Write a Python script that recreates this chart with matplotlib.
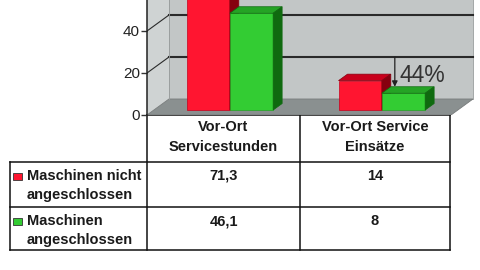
import matplotlib.pyplot as plt
from matplotlib.patches import Polygon, Rectangle

plt.rcParams['font.family'] = ['Liberation Sans', 'DejaVu Sans']

# data
categories = ['Vor-Ort\nServicestunden', 'Vor-Ort Service\nEinsätze']
series_names = ['Maschinen nicht\nangeschlossen', 'Maschinen\nangeschlossen']
not_connected = [71.3, 14]
connected = [46.1, 8]
value_labels = [['71,3', '14'], ['46,1', '8']]
y_ticks = [0, 20, 40]
reduction_label = '44%'

# colours: front, top, side
red = ['#ff1530', '#c8001c', '#86000f']
green = ['#33cc33', '#25a325', '#0f6a0f']
series_colors = [red, green]
series_values = [not_connected, connected]

W, H = 480, 270
fig = plt.figure(figsize=(4.8, 2.7), dpi=100)

# ---- table (pixel coords) ----
tab = fig.add_axes([0, 0, 1, 1])
tab.set_xlim(0, W)
tab.set_ylim(H, 0)
tab.axis('off')

col_edges = [10, 147, 300, 450]
row_edges = [115, 162, 207, 250]
lc, lw = '#111111', 1.1
tab.plot([col_edges[1], col_edges[3]], [row_edges[0]] * 2, color=lc, lw=lw)
for y in row_edges[1:]:
    tab.plot([col_edges[0], col_edges[3]], [y, y], color=lc, lw=lw)
tab.plot([col_edges[0]] * 2, [row_edges[1], row_edges[3]], color=lc, lw=lw)
for x in col_edges[1:]:
    tab.plot([x, x], [row_edges[0], row_edges[3]], color=lc, lw=lw)

fs = 10.5
for j, cat in enumerate(categories):
    cx = (col_edges[j + 1] + col_edges[j + 2]) / 2
    for k, line in enumerate(cat.split('\n')):
        tab.text(cx, 127 + 20 * k, line, ha='center', va='center',
                 fontsize=fs, fontweight='bold', color='#1a1a1a')

for i, name in enumerate(series_names):
    y0 = row_edges[i + 1] + 14
    tab.add_patch(Rectangle((13, y0 - 3.5), 9, 7, facecolor=series_colors[i][0],
                            edgecolor='#333333', lw=0.6))
    for k, line in enumerate(name.split('\n')):
        tab.text(27, y0 + 19 * k, line, ha='left', va='center',
                 fontsize=fs, fontweight='bold', color='#1a1a1a')
    for j in range(len(categories)):
        cx = (col_edges[j + 1] + col_edges[j + 2]) / 2
        tab.text(cx, y0, value_labels[i][j], ha='center', va='center',
                 fontsize=fs, fontweight='bold', color='#1a1a1a')

# ---- 3D-looking bar chart ----
ax_left, ax_base = 147, 115
px_cat, px_unit = 152, 2.1
ax = fig.add_axes([ax_left / W, (H - ax_base) / H, 1 - ax_left / W, ax_base / H])
ax.patch.set_alpha(0)
x_lo = -0.5
ax.set_xlim(x_lo, x_lo + (W - ax_left) / px_cat)
top = ax_base / px_unit
ax.set_ylim(0, top)

DX, DY = 22 / px_cat, 16 / px_unit   # full depth of floor
x_hi = 1.5
wall_side, wall_back, floor_c = '#cfd3d3', '#c2c6c6', '#8a9090'

ax.add_patch(Polygon([(x_lo, 0), (x_lo + DX, DY), (x_lo + DX, top + 5), (x_lo, top + 5)],
                     closed=True, facecolor=wall_side, edgecolor='none', zorder=1))
ax.add_patch(Polygon([(x_lo + DX, DY), (x_hi + DX, DY), (x_hi + DX, top + 5), (x_lo + DX, top + 5)],
                     closed=True, facecolor=wall_back, edgecolor='#9a9e9e', lw=0.6, zorder=1))
ax.add_patch(Polygon([(x_lo, 0), (x_hi, 0), (x_hi + DX, DY), (x_lo + DX, DY)],
                     closed=True, facecolor=floor_c, edgecolor='#777b7b', lw=0.6, zorder=2))
for t in y_ticks[1:]:
    ax.plot([x_lo + DX, x_hi + DX], [t + DY, t + DY], color='#2a2a2a', lw=1.5, zorder=2)
    ax.plot([x_lo, x_lo + DX], [t, t + DY], color='#2a2a2a', lw=0.8, zorder=2)
ax.plot([x_lo + DX, x_lo + DX], [DY, top + 5], color='#9a9e9e', lw=0.6, zorder=2)

bw = 0.285
f = 0.31
ox, oy = f * DX, f * DY
bdx, bdy = 9 / px_cat, 6.5 / px_unit
for i in range(len(categories)):
    for s, vals in enumerate(series_values):
        c = series_colors[s]
        x0 = i - bw + s * bw + ox
        x1 = x0 + bw
        v = vals[i]
        t = oy + v
        ax.bar(x0, v, width=bw, bottom=oy, align='edge', color=c[0],
               edgecolor=c[1], lw=0.5, zorder=3)
        ax.add_patch(Polygon([(x0, t), (x1, t), (x1 + bdx, t + bdy), (x0 + bdx, t + bdy)],
                             closed=True, facecolor=c[1], edgecolor=c[2], lw=0.5, zorder=3))
        ax.add_patch(Polygon([(x1, oy), (x1 + bdx, oy + bdy), (x1 + bdx, t + bdy), (x1, t)],
                             closed=True, facecolor=c[2], edgecolor=c[2], lw=0.5, zorder=3))

# reduction arrow on second category
xa = 1 + ox + 0.3 * bw
ax.annotate('', xy=(xa, connected[1] + oy + bdy), xytext=(xa, y_ticks[1] + DY),
            arrowprops=dict(arrowstyle='-|>', color='#222222', lw=0.9,
                            mutation_scale=8, shrinkA=0, shrinkB=0), zorder=4)
ax.text(xa + 0.03, 19, reduction_label, ha='left', va='center', fontsize=16.5,
        color='#333333', zorder=4)

ax.set_yticks(y_ticks)
ax.set_xticks([])
ax.tick_params(axis='y', length=4, width=1, color='#333333', labelsize=11,
               labelcolor='#222222', pad=1)
for sp in ['top', 'right', 'bottom']:
    ax.spines[sp].set_visible(False)
ax.spines['left'].set_color('#222222')
ax.spines['left'].set_linewidth(1.1)

fig.savefig('out.png', dpi=100)
